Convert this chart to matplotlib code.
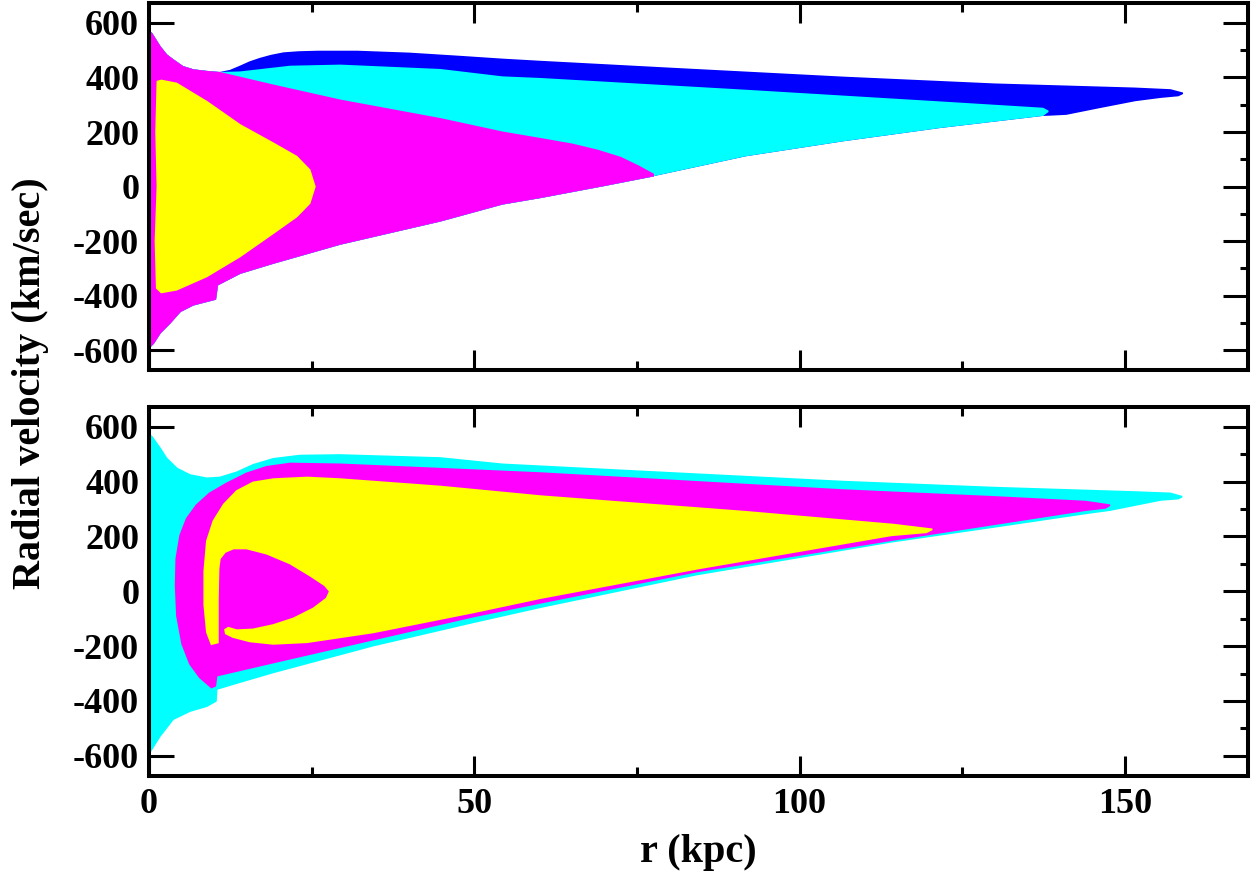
import numpy as np
import matplotlib
matplotlib.use('Agg')
import matplotlib.pyplot as plt
from matplotlib.ticker import MultipleLocator

plt.rcParams['font.family'] = ['Liberation Serif', 'DejaVu Serif']
plt.rcParams['font.weight'] = 'bold'
plt.rcParams['axes.unicode_minus'] = False

BLUE = '#0000ff'
CYAN = '#00ffff'
MAGENTA = '#ff00ff'
YELLOW = '#ffff00'

# ---- upper panel: region outlines (r in kpc, v in km/sec)
top_left_r = [0, 0.4, 1.7, 2.7, 3.7, 5.2, 6.8, 8.9, 10.9]
top_left_v = [568, 561, 512, 482, 464, 439, 427, 421, 417]

top_env_top_r = [12.5, 14.0, 15.5, 17.1, 18.8, 20.7, 23, 26, 32, 40, 48, 54.3, 60.2, 80, 106.7,
                 130, 151.5, 157, 158.9]
top_env_top_v = [425, 440, 456, 469, 480, 489, 493, 495, 495, 488, 476, 466, 458, 433, 400,
                 375, 360, 354, 342]
top_env_tip_r = [158.2, 155.5, 151.6, 146, 141, 138.5]
top_env_tip_v = [334, 328, 316, 290, 266, 263]

top_cyan_top_r = [14, 21.7, 29.4, 44.8, 54.3, 60.2, 91.7, 121.7, 137.4, 138.2]
top_cyan_top_v = [419, 440, 444, 428, 401, 395, 352, 309, 286, 276]
top_cyan_low_r = [137.4, 121.7, 106.7, 91.7, 77.5]
top_cyan_low_v = [262, 218, 169, 114, 41]

top_mag_top_r = [19.1, 29.4, 44.8, 54.3, 60.2, 65, 69, 72.5, 75.2, 77.5]
top_mag_top_v = [371, 316, 248, 199, 175, 155, 132, 106, 75, 45]
top_mag_low_r = [77.5, 70, 60.2, 54.3, 44.8, 29.4, 19.1, 14, 10.5, 10.2, 8.9, 6.8, 4.8, 3.2,
                 1.7, 0.7, 0]
top_mag_low_v = [40, 5, -39, -63, -125, -210, -280, -317, -360, -412, -420, -433, -457, -500,
                 -536, -573, -590]

top_yel_r = [1.3, 1.9, 4.25, 8.9, 14.0, 19.1, 22.7, 24.7, 25.5, 24.7, 22.7, 19.1, 14.0, 8.9,
             4.25, 1.9, 1.2, 1.0, 1.3, 1.1]
top_yel_v = [385, 389, 378, 311, 226, 159, 110, 61, 0, -61, -110, -171, -256, -329,
             -378, -388, -372, -200, 0, 200]

# ---- lower panel
bot_cyan_top_r = [0, 0.4, 1.7, 2.7, 4.3, 6.3, 8.9, 10.9, 13.5, 16, 19.1, 23.2, 29.4, 44.8,
                  54.3, 80, 106.7, 130, 151.5, 157, 158.8]
bot_cyan_top_v = [570, 565, 522, 485, 448, 424, 412, 415, 434, 461, 483, 495, 497, 486,
                  463, 432, 400, 378, 362, 357, 345]
bot_cyan_low_r = [158.2, 155.5, 147.7, 144, 130, 114, 84.2, 60.2, 49.9, 34.5, 19.1, 12.9,
                  10.4, 10.3, 8.9, 6.3, 3.7, 1.7, 0.4, 0]
bot_cyan_low_v = [338, 333, 296, 284, 235, 180, 61, -58, -113, -198, -296, -339,
                  -357, -400, -419, -437, -467, -528, -577, -592]

bot_mag_r = [9.6, 7.8, 6.3, 5.1, 4.3, 4.1, 4.2, 4.8, 5.8, 7.3, 9.3, 11.9, 15, 18.1, 21.7,
             29.4, 60.2, 106.7, 130, 144, 147.7,
             147.0, 144, 114, 84.2, 60.2, 49.9, 34.5, 19.1, 10.4, 10.2]
bot_mag_v = [-351, -314, -265, -192, -89, 21, 119, 204, 265, 314, 357, 393, 430, 454, 466,
             463, 431, 369, 344, 327, 314,
             304, 296, 186, 72, -42, -92, -176, -260, -308, -345]

bot_yel_r = [9.6, 8.9, 8.5, 8.5, 8.9, 9.9, 11.5, 13.5, 16, 19.1, 24.3, 29.4, 44.8, 60.2,
             91.7, 114.5, 120.4, 119.5, 114.1, 84.2, 60.2, 49.9, 34.5, 29.4, 24.3, 19.1,
             15.5, 12.9, 11.8, 11.7,
             12.2, 13.5, 16, 19.1, 22.2, 25.3, 27.3, 27.8, 27, 24.7, 21.7, 18.1, 15, 13,
             11.7, 10.9, 10.7, 10.6, 10.6]
bot_yel_v = [-193, -149, -49, 73, 183, 256, 317, 366, 397, 409, 415, 409, 382, 347,
             290, 243, 226, 215, 204, 82, -25, -77, -150, -168, -186, -192,
             -183, -167, -154, -140,
             -133, -142, -139, -123, -99, -62, -26, 0, 22, 58, 101, 137, 156, 156,
             143, 119, 82, -28, -187]

xlim = (0, 169)
ylim = (-672, 672)


def region(ax, r, v, color):
    ax.fill(r, v, color=color, lw=1.2, ec=color, zorder=2)


def style(ax, show_x):
    ax.set_xlim(*xlim)
    ax.set_ylim(*ylim)
    ax.xaxis.set_major_locator(MultipleLocator(50))
    ax.xaxis.set_minor_locator(MultipleLocator(25))
    ax.yaxis.set_major_locator(MultipleLocator(200))
    ax.yaxis.set_minor_locator(MultipleLocator(100))
    ax.tick_params(which='both', direction='in', top=True, right=True, width=2.2,
                   labelsize=26, zorder=5)
    ax.tick_params(axis='y', which='major', length=18, pad=7)
    ax.tick_params(axis='y', which='minor', length=6)
    ax.tick_params(axis='x', which='major', length=14.5, pad=9)
    ax.tick_params(axis='x', which='minor', length=6.5)
    for s in ax.spines.values():
        s.set_linewidth(2.9)
        s.set_zorder(6)
    if not show_x:
        ax.tick_params(axis='x', labelbottom=False)
    for lab in ax.get_xticklabels() + ax.get_yticklabels():
        lab.set_fontweight('bold')


fig = plt.figure(figsize=(12.58, 8.74), dpi=100)
ax1 = fig.add_axes([0.1184, 0.5767, 0.874, 0.4196])
ax2 = fig.add_axes([0.1184, 0.1127, 0.874, 0.4216])

# upper panel, painted back to front
env_r = top_left_r + top_env_top_r + top_env_tip_r + top_cyan_low_r + top_mag_low_r
env_v = top_left_v + top_env_top_v + top_env_tip_v + top_cyan_low_v + top_mag_low_v
region(ax1, env_r, env_v, BLUE)
region(ax1, top_left_r + top_cyan_top_r + top_cyan_low_r + top_mag_low_r,
       top_left_v + top_cyan_top_v + top_cyan_low_v + top_mag_low_v, CYAN)
region(ax1, top_left_r + top_mag_top_r + top_mag_low_r,
       top_left_v + top_mag_top_v + top_mag_low_v, MAGENTA)
region(ax1, top_yel_r, top_yel_v, YELLOW)

# lower panel
region(ax2, bot_cyan_top_r + bot_cyan_low_r, bot_cyan_top_v + bot_cyan_low_v, CYAN)
region(ax2, bot_mag_r, bot_mag_v, MAGENTA)
region(ax2, bot_yel_r, bot_yel_v, YELLOW)

style(ax1, False)
style(ax2, True)

ax2.set_xlabel('r (kpc)', fontsize=29, fontweight='bold', labelpad=9)
fig.text(0.024, 0.562, 'Radial velocity (km/sec)', rotation=90, fontsize=29,
         fontweight='bold', ha='center', va='center')

fig.savefig('out.png', dpi=100)
